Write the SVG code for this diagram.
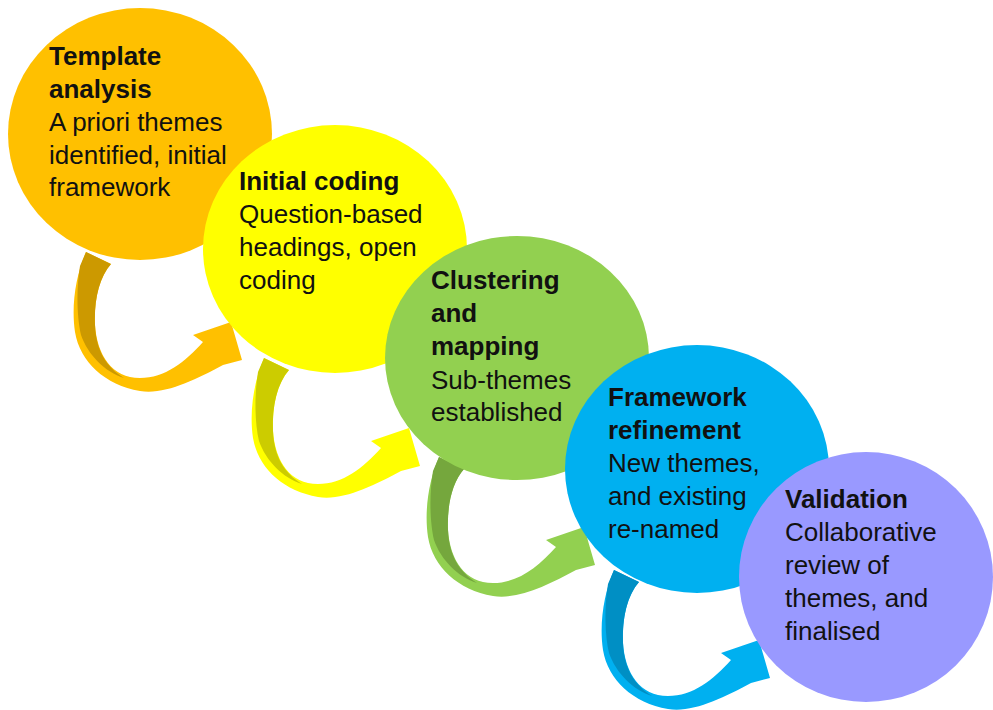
<svg xmlns="http://www.w3.org/2000/svg" width="993" height="710" viewBox="0 0 993 710">
  <style>
    .lbl { font-family: "Liberation Sans", Arial, sans-serif; font-size: 26px; fill: #111111; }
    .ttl { font-weight: bold; }
  </style>
  <defs>
    <!-- curved ribbon arrow: full light band with arrowhead -->
    <path id="band" d="M86,252 C76,275 71,305 75,332 C80,362 105,385 140,391 C165,395 195,380 223,365 L242,360 L231,322 L193,335 L203,342 C185,362 165,378 140,378 C112,378 97,355 95,325 C94,300 99,278 111,264 Z"/>
    <!-- darker back face of the ribbon near its tail -->
    <path id="fold" d="M86,252 L111,264 C99,278 94,300 95,325 C96,350 106,367 124,378 C105,372 88,355 81,335 C77,318 76,290 80,266 Z"/>
  </defs>

  <rect width="993" height="710" fill="#ffffff"/>

  <g id="connectors">
    <g id="arrow-1-2">
      <use href="#band" fill="#FFC000"/>
      <use href="#fold" fill="#CC9900"/>
    </g>
    <g id="arrow-2-3" transform="translate(178,106)">
      <use href="#band" fill="#FFFF00"/>
      <use href="#fold" fill="#CCCC00"/>
    </g>
    <g id="arrow-3-4" transform="translate(353,205)">
      <use href="#band" fill="#92D050"/>
      <use href="#fold" fill="#75A73D"/>
    </g>
    <g id="arrow-4-5" transform="translate(528,318)">
      <use href="#band" fill="#00B0F0"/>
      <use href="#fold" fill="#008FC4"/>
    </g>
  </g>

  <g id="template-analysis">
    <ellipse cx="140" cy="134" rx="132" ry="126" fill="#FFC000"/>
    <text class="lbl" x="49">
      <tspan class="ttl" x="49" y="65">Template</tspan>
      <tspan class="ttl" x="49" y="98">analysis</tspan>
      <tspan x="49" y="131">A priori themes</tspan>
      <tspan x="49" y="164">identified, initial</tspan>
      <tspan x="49" y="196">framework</tspan>
    </text>
  </g>

  <g id="initial-coding">
    <ellipse cx="335" cy="249" rx="132" ry="124" fill="#FFFF00"/>
    <text class="lbl" x="239">
      <tspan class="ttl" x="239" y="190">Initial coding</tspan>
      <tspan x="239" y="223">Question-based</tspan>
      <tspan x="239" y="256">headings, open</tspan>
      <tspan x="239" y="289">coding</tspan>
    </text>
  </g>

  <g id="clustering-mapping">
    <ellipse cx="517" cy="358" rx="132" ry="122" fill="#92D050"/>
    <text class="lbl" x="431">
      <tspan class="ttl" x="431" y="289">Clustering</tspan>
      <tspan class="ttl" x="431" y="322">and</tspan>
      <tspan class="ttl" x="431" y="355">mapping</tspan>
      <tspan x="431" y="389">Sub-themes</tspan>
      <tspan x="431" y="421">established</tspan>
    </text>
  </g>

  <g id="framework-refinement">
    <ellipse cx="697" cy="469" rx="132" ry="124" fill="#00B0F0"/>
    <text class="lbl" x="608">
      <tspan class="ttl" x="608" y="406">Framework</tspan>
      <tspan class="ttl" x="608" y="439">refinement</tspan>
      <tspan x="608" y="472">New themes,</tspan>
      <tspan x="608" y="505">and existing</tspan>
      <tspan x="608" y="538">re-named</tspan>
    </text>
  </g>

  <g id="validation">
    <ellipse cx="866" cy="577" rx="127" ry="125" fill="#9999FF"/>
    <text class="lbl" x="785">
      <tspan class="ttl" x="785" y="508">Validation</tspan>
      <tspan x="785" y="541">Collaborative</tspan>
      <tspan x="785" y="574">review of</tspan>
      <tspan x="785" y="607">themes, and</tspan>
      <tspan x="785" y="640">finalised</tspan>
    </text>
  </g>
</svg>
